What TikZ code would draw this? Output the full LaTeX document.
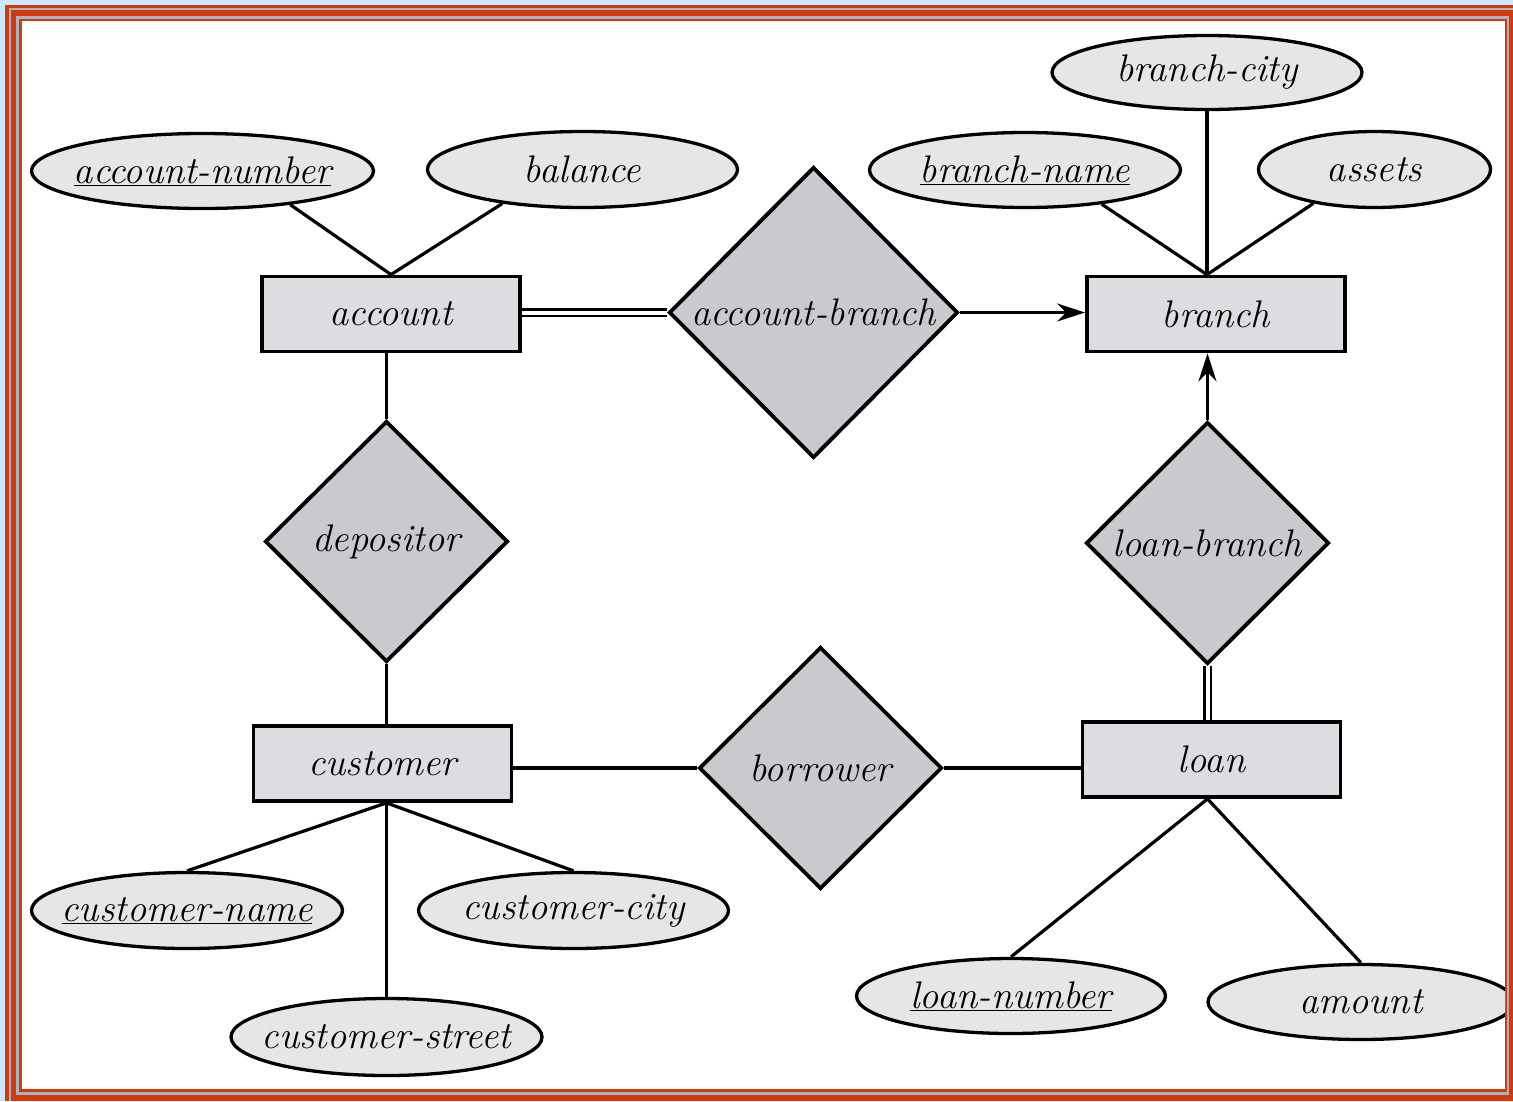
\documentclass[tikz,border=0pt]{standalone}
\usetikzlibrary{shapes.geometric,arrows.meta,calc}
\definecolor{frred}{HTML}{D23A0C}
\definecolor{frgray}{HTML}{A4B6C4}
\definecolor{frblue}{HTML}{CCE8FB}
\definecolor{entfill}{HTML}{DDDCE0}
\definecolor{relfill}{HTML}{CBC9CE}
\definecolor{attfill}{HTML}{E6E6E6}
\begin{document}
\begin{tikzpicture}[x=1pt,y=-1pt,
  every node/.style={font=\fontsize{38.5}{42}\selectfont\itshape},
  entity/.style={draw, line width=3.8pt, fill=entfill, rectangle, inner sep=0pt,
    minimum width=258pt, minimum height=75pt},
  rel/.style={draw, line width=3.8pt, fill=relfill, diamond, inner sep=0pt},
  attr/.style={draw, line width=3.3pt, fill=attfill, ellipse, inner xsep=-80pt, inner ysep=-20pt},
  link/.style={line width=3.2pt},
  dbl/.style={double, line width=2.4pt, double distance=4pt},
  arr/.style={line width=3.2pt, -{Stealth[length=28pt,width=18pt,inset=9pt]}}]
\useasboundingbox (0,0) rectangle (1513,1101);
% frame
\fill[frblue] (0,0) rectangle (1513,1101);
\fill[frred] (5,5) rectangle (1513,1101);
\fill[frgray] (9,8) rectangle (1513,1101);
\fill[frred] (11,10) rectangle (1513,1101);
\fill[frgray] (16,16) rectangle (1509,1095);
\fill[frred] (19,19) rectangle (1507,1092);
\fill[white] (22,21) rectangle (1505,1089);
\begin{scope}
\clip (22,21) rectangle (1505,1089);
% entities
\node[entity] (acct) at (391,314) {account};
\node[entity] (br) at (1216,314) {branch};
\node[entity] (cust) at (382.5,763.5) {customer};
\node[entity] (loan) at (1211.5,759.5) {loan};
% relationships
\node[rel, minimum width=289pt, minimum height=291pt] (ab) at (813.5,312.5) {account-branch};
\node[rel, minimum width=243pt, minimum height=241pt] (dep) at (386.5,541.5) {depositor};
\node[rel, minimum width=243pt, minimum height=242pt] (lb) at (1207.5,543) {loan-branch};
\node[rel, minimum width=243pt, minimum height=242pt] (bor) at (820.5,768) {borrower};
% attributes
\node[attr, minimum width=342pt, minimum height=75pt] (an) at (202.5,171) {\underline{account-number}};
\node[attr, minimum width=310pt, minimum height=76pt] (bal) at (582.5,169.5) {balance};
\node[attr, minimum width=310pt, minimum height=74pt] (bc) at (1207,72.5) {branch-city};
\node[attr, minimum width=311pt, minimum height=75pt] (bn) at (1025,170) {\underline{branch-name}};
\node[attr, minimum width=232pt, minimum height=76pt] (as) at (1374.5,169.5) {assets};
\node[attr, minimum width=311pt, minimum height=76pt] (cn) at (187,910.5) {\underline{customer-name}};
\node[attr, minimum width=310pt, minimum height=76pt] (cc) at (573.5,910.5) {customer-city};
\node[attr, minimum width=311pt, minimum height=77pt] (cs) at (386.5,1037) {customer-street};
\node[attr, minimum width=309pt, minimum height=75pt] (ln) at (1011,996) {\underline{loan-number}};
\node[attr, minimum width=306pt, minimum height=75pt] (am) at (1361,1002) {amount};
% connectors
\coordinate (acctTop) at (acct.north);
\coordinate (brTop) at (bc.south |- br.north);
\coordinate (custBot) at (dep.south |- cust.south);
\coordinate (loanBot) at (lb.south |- loan.south);
\draw[link] (an.-21) -- (acctTop);
\draw[link] (bal.-157) -- (acctTop);
\draw[link] (bn.-24) -- (brTop);
\draw[link] (bc.south) -- (brTop);
\draw[link] (as.-151) -- (brTop);
\draw[dbl] (ab.west -| acct.east) -- (ab.west);
\draw[arr] (ab.east) -- (ab.east -| br.west);
\draw[link] (dep.north |- acct.south) -- (dep.north);
\draw[link] (dep.south) -- (dep.south |- cust.north);
\draw[arr] (lb.north) -- (lb.north |- br.south);
\draw[dbl] (lb.south) -- (lb.south |- loan.north);
\draw[link] (bor.west -| cust.east) -- (bor.west);
\draw[link] (bor.east) -- (bor.east -| loan.west);
\draw[link] (custBot) -- (cn.north);
\draw[link] (custBot) -- (cc.north);
\draw[link] (custBot) -- (cs.north);
\draw[link] (loanBot) -- (ln.north);
\draw[link] (loanBot) -- (am.north);
\end{scope}
\end{tikzpicture}
\end{document}
